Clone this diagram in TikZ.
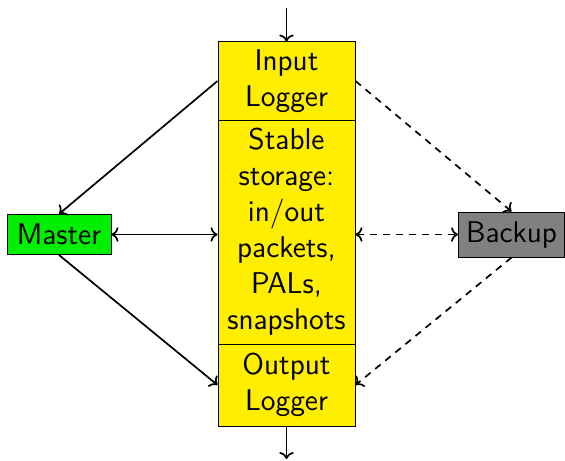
\documentclass[tikz,border=0pt]{standalone}
\usetikzlibrary{arrows.meta}
\definecolor{boxyellow}{RGB}{255,238,0}
\definecolor{mastergreen}{RGB}{0,238,0}
\definecolor{backupgray}{RGB}{128,128,128}
\begin{document}
\begin{tikzpicture}[x=0.5pt,y=-0.5pt,
  every node/.style={font=\sffamily\fontsize{15}{18}\selectfont, align=center, inner sep=0pt},
  logbox/.style={draw, fill=boxyellow, minimum width=68.5pt, line width=0.5pt},
  smallbox/.style={draw, line width=0.5pt},
  conn/.style={line width=0.85pt, ->},
  dconn/.style={line width=0.85pt, ->, dashed, dash pattern=on 3.5pt off 3pt}]
\useasboundingbox (0,0) rectangle (565,460);
\node[logbox, minimum height=39pt] (in) at (286.5,81) {Input\\Logger};
\node[logbox, minimum height=112pt] (stable) at (286.5,232) {Stable\\storage:\\in/out\\packets,\\PALs,\\snapshots};
\node[logbox, minimum height=41pt] (out) at (286.5,385) {Output\\Logger};
\node[smallbox, fill=mastergreen, minimum width=52pt, minimum height=20pt] (master) at (59,234.5) {Master};
\node[smallbox, fill=backupgray, minimum width=53pt, minimum height=22.5pt] (backup) at (511.5,234.5) {Backup};
\coordinate (top) at (286.5,8);
\coordinate (bot) at (286.5,459);
\draw[conn] (top) -- (in.north);
\draw[conn] (out.south) -- (bot);
\draw[conn] (in.west) -- (master.north);
\draw[conn] (master.south) -- (out.west);
\draw[conn, <->] (master.east) -- (master.east -| stable.west);
\draw[dconn] (in.east) -- (backup.north);
\draw[dconn] (backup.south) -- (out.east);
\draw[dconn, <->] (backup.west -| stable.east) -- (backup.west);
\end{tikzpicture}
\end{document}
